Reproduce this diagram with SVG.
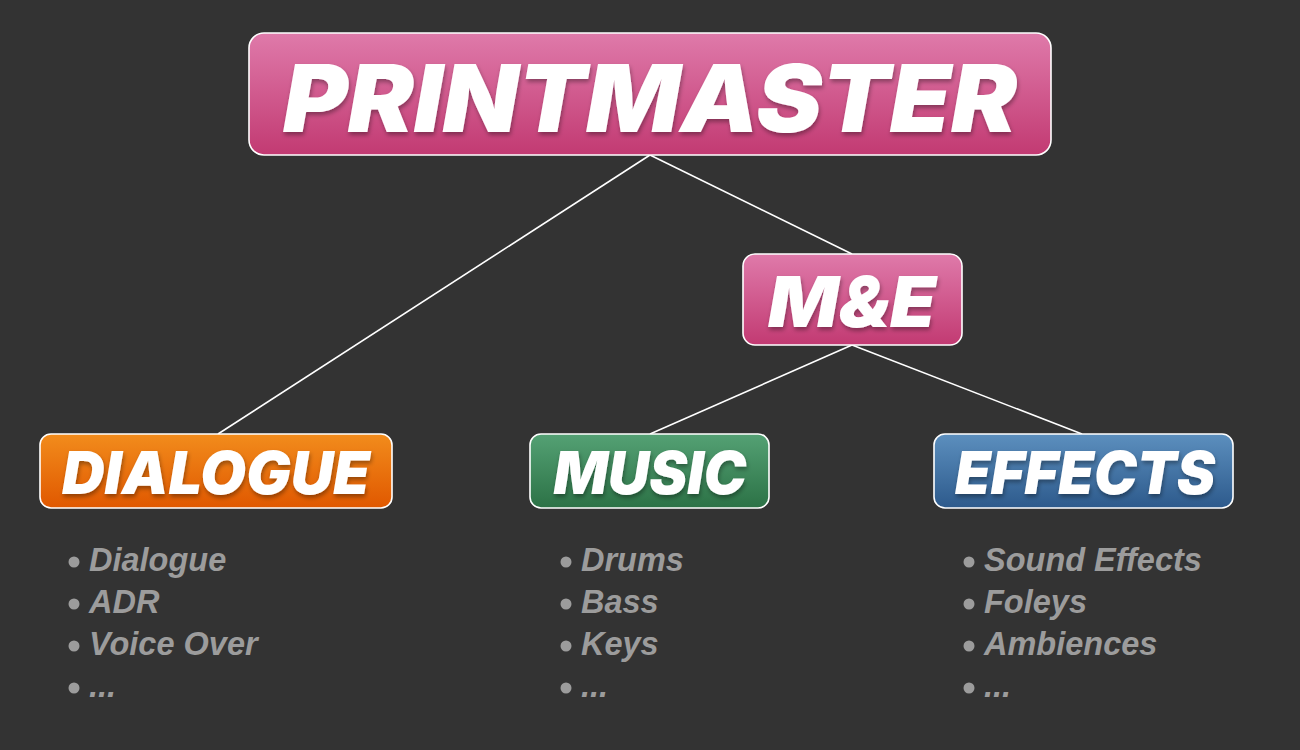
<svg xmlns="http://www.w3.org/2000/svg" width="1300" height="750" viewBox="0 0 1300 750">
<defs>
<linearGradient id="gPink" x1="0" y1="0" x2="0" y2="1"><stop offset="0" stop-color="#df7aaa"/><stop offset="1" stop-color="#c23a72"/></linearGradient>
<linearGradient id="gOrange" x1="0" y1="0" x2="0" y2="1"><stop offset="0" stop-color="#f28c1c"/><stop offset="1" stop-color="#e05800"/></linearGradient>
<linearGradient id="gGreen" x1="0" y1="0" x2="0" y2="1"><stop offset="0" stop-color="#54a174"/><stop offset="1" stop-color="#2c7246"/></linearGradient>
<linearGradient id="gBlue" x1="0" y1="0" x2="0" y2="1"><stop offset="0" stop-color="#5c8fbe"/><stop offset="1" stop-color="#2d5a8c"/></linearGradient>
<filter id="sh" x="-10%" y="-20%" width="120%" height="150%"><feDropShadow dx="1" dy="3" stdDeviation="2" flood-color="#000" flood-opacity="0.35"/></filter>
<style>
.box{stroke:#ffffff;stroke-width:1.6}
.t{font-family:Inter,Lato,"Noto Sans",sans-serif;font-weight:900;font-style:italic;fill:#ffffff;text-anchor:middle;filter:url(#sh)}
.li{font-family:"Liberation Sans",Arial,sans-serif;font-weight:700;font-style:italic;fill:#9c9c9c;font-size:32.5px}
.b{fill:#9c9c9c}
.c{stroke:#ffffff;stroke-width:1.6;fill:none}
</style>
</defs>
<rect width="1300" height="750" fill="#333333"/>
<g id="connectors">
<line class="c" x1="650" y1="155" x2="218" y2="434"/>
<line class="c" x1="650" y1="155" x2="852" y2="254"/>
<line class="c" x1="852" y1="345" x2="650" y2="434"/>
<line class="c" x1="852" y1="345" x2="1082" y2="434"/>
</g>
<g id="printmaster">
<rect class="box" x="249" y="33" width="802" height="122" rx="15" fill="url(#gPink)"/>
<text class="t" x="650" y="132" font-size="94" textLength="734" lengthAdjust="spacingAndGlyphs">PRINTMASTER</text>
</g>
<g id="me">
<rect class="box" x="743" y="254" width="219" height="91" rx="12" fill="url(#gPink)"/>
<text class="t" x="852" y="327" font-size="70" textLength="168" lengthAdjust="spacingAndGlyphs">M&amp;E</text>
</g>
<g id="dialogue">
<rect class="box" x="40" y="434" width="352" height="74" rx="11" fill="url(#gOrange)"/>
<text class="t" x="216" y="494" font-size="59" textLength="308" lengthAdjust="spacingAndGlyphs">DIALOGUE</text>
</g>
<g id="music">
<rect class="box" x="530" y="434" width="239" height="74" rx="11" fill="url(#gGreen)"/>
<text class="t" x="650" y="494" font-size="59" textLength="193" lengthAdjust="spacingAndGlyphs">MUSIC</text>
</g>
<g id="effects">
<rect class="box" x="934" y="434" width="299" height="74" rx="11" fill="url(#gBlue)"/>
<text class="t" x="1085" y="494" font-size="59" textLength="260" lengthAdjust="spacingAndGlyphs">EFFECTS</text>
</g>
<g id="dialogue-list">
<circle class="b" cx="74" cy="562" r="5.5"/><circle class="b" cx="74" cy="604" r="5.5"/><circle class="b" cx="74" cy="646" r="5.5"/><circle class="b" cx="74" cy="688" r="5.5"/>
<text class="li" x="89" y="571">Dialogue</text>
<text class="li" x="89" y="613">ADR</text>
<text class="li" x="89" y="655">Voice Over</text>
<text class="li" x="89" y="697">...</text>
</g>
<g id="music-list">
<circle class="b" cx="566" cy="562" r="5.5"/><circle class="b" cx="566" cy="604" r="5.5"/><circle class="b" cx="566" cy="646" r="5.5"/><circle class="b" cx="566" cy="688" r="5.5"/>
<text class="li" x="581" y="571">Drums</text>
<text class="li" x="581" y="613">Bass</text>
<text class="li" x="581" y="655">Keys</text>
<text class="li" x="581" y="697">...</text>
</g>
<g id="effects-list">
<circle class="b" cx="969" cy="562" r="5.5"/><circle class="b" cx="969" cy="604" r="5.5"/><circle class="b" cx="969" cy="646" r="5.5"/><circle class="b" cx="969" cy="688" r="5.5"/>
<text class="li" x="984" y="571">Sound Effects</text>
<text class="li" x="984" y="613">Foleys</text>
<text class="li" x="984" y="655">Ambiences</text>
<text class="li" x="984" y="697">...</text>
</g>
</svg>
